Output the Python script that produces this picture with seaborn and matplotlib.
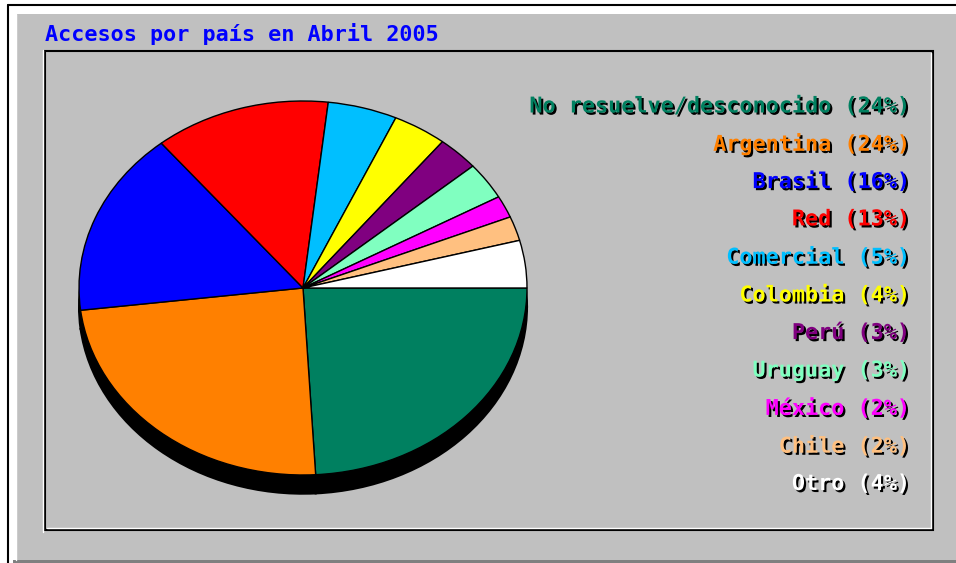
import numpy as np
import matplotlib
matplotlib.use("Agg")
import matplotlib.pyplot as plt
import matplotlib.patheffects as pe
from matplotlib.patches import Rectangle
import seaborn as sns

# data
paises = ['No resuelve/desconocido', 'Argentina', 'Brasil', 'Red', 'Comercial',
          'Colombia', 'Perú', 'Uruguay', 'México', 'Chile', 'Otro']
porcentaje = [24, 24, 16, 13, 5, 4, 3, 3, 2, 2, 4]
accesos = [24.1, 24.0, 16.0, 12.7, 5.0, 3.9, 3.0, 3.2, 1.9, 2.1, 4.1]
colores = ['#008060', '#FF8000', '#0000FF', '#FF0000', '#00BFFF', '#FFFF00',
           '#800080', '#80FFC0', '#FF00FF', '#FFC080', '#FFFFFF']
titulo = 'Accesos por país en Abril 2005'

sns.set_style('white')
plt.rcParams['font.family'] = ['DejaVu Sans Mono', 'DejaVu Sans']

W, H = 956, 563
fig = plt.figure(figsize=(W / 100, H / 100), dpi=100, facecolor='white')

# background drawn in pixel coordinates
bg = fig.add_axes([0, 0, 1, 1])
bg.set_xlim(0, W)
bg.set_ylim(H, 0)
bg.axis('off')
bg.add_patch(Rectangle((17, 14), W - 17, 546, facecolor='#C0C0C0', edgecolor='none'))
bg.add_patch(Rectangle((13, 560), W - 13, 3, facecolor='#808080', edgecolor='none'))
bg.plot([8, W], [5, 5], color='black', lw=1.5)
bg.plot([8, 8], [5, H], color='black', lw=1.5)
bg.plot([16, 16], [14, 560], color='white', lw=1)
# inner panel
bg.add_patch(Rectangle((45, 51), 888, 479, facecolor='#C0C0C0', edgecolor='black', lw=1.5))
bg.plot([931, 931], [53, 528], color='white', lw=1)
bg.plot([47, 931], [528, 528], color='white', lw=1)
bg.plot([43.5, 43.5], [50, 532], color='white', lw=1)

bg.text(45, 34, titulo, color='#0000FF', fontsize=15.7, fontweight='bold',
        ha='left', va='center')

y0, paso = 106, 37.8
for i, (nombre, pct, col) in enumerate(zip(paises, porcentaje, colores)):
    bg.text(910, y0 + i * paso, f'{nombre} ({pct}%)', color=col, fontsize=15.7,
            fontweight='bold', ha='right', va='center',
            path_effects=[pe.withSimplePatchShadow(offset=(1.5, -1.5),
                                                   shadow_rgbFace='black', alpha=1)])

# pie axes: ellipse 448 x 374 px plus room for the shadow
ax = fig.add_axes([79 / W, (H - 495) / H, 448 / W, 394 / H])
ax.pie(accesos, colors=['black'] * len(accesos), startangle=0, counterclock=False,
       center=(0, -0.1), radius=1, wedgeprops=dict(edgecolor='black', linewidth=1.5))
ax.pie(accesos, colors=colores, startangle=0, counterclock=False,
       radius=1, wedgeprops=dict(edgecolor='black', linewidth=1))
ax.set_aspect('auto')
ax.set_xlim(-1, 1)
ax.set_ylim(-1.107, 1)
ax.axis('off')

fig.savefig('out.png', dpi=100, facecolor='white')
